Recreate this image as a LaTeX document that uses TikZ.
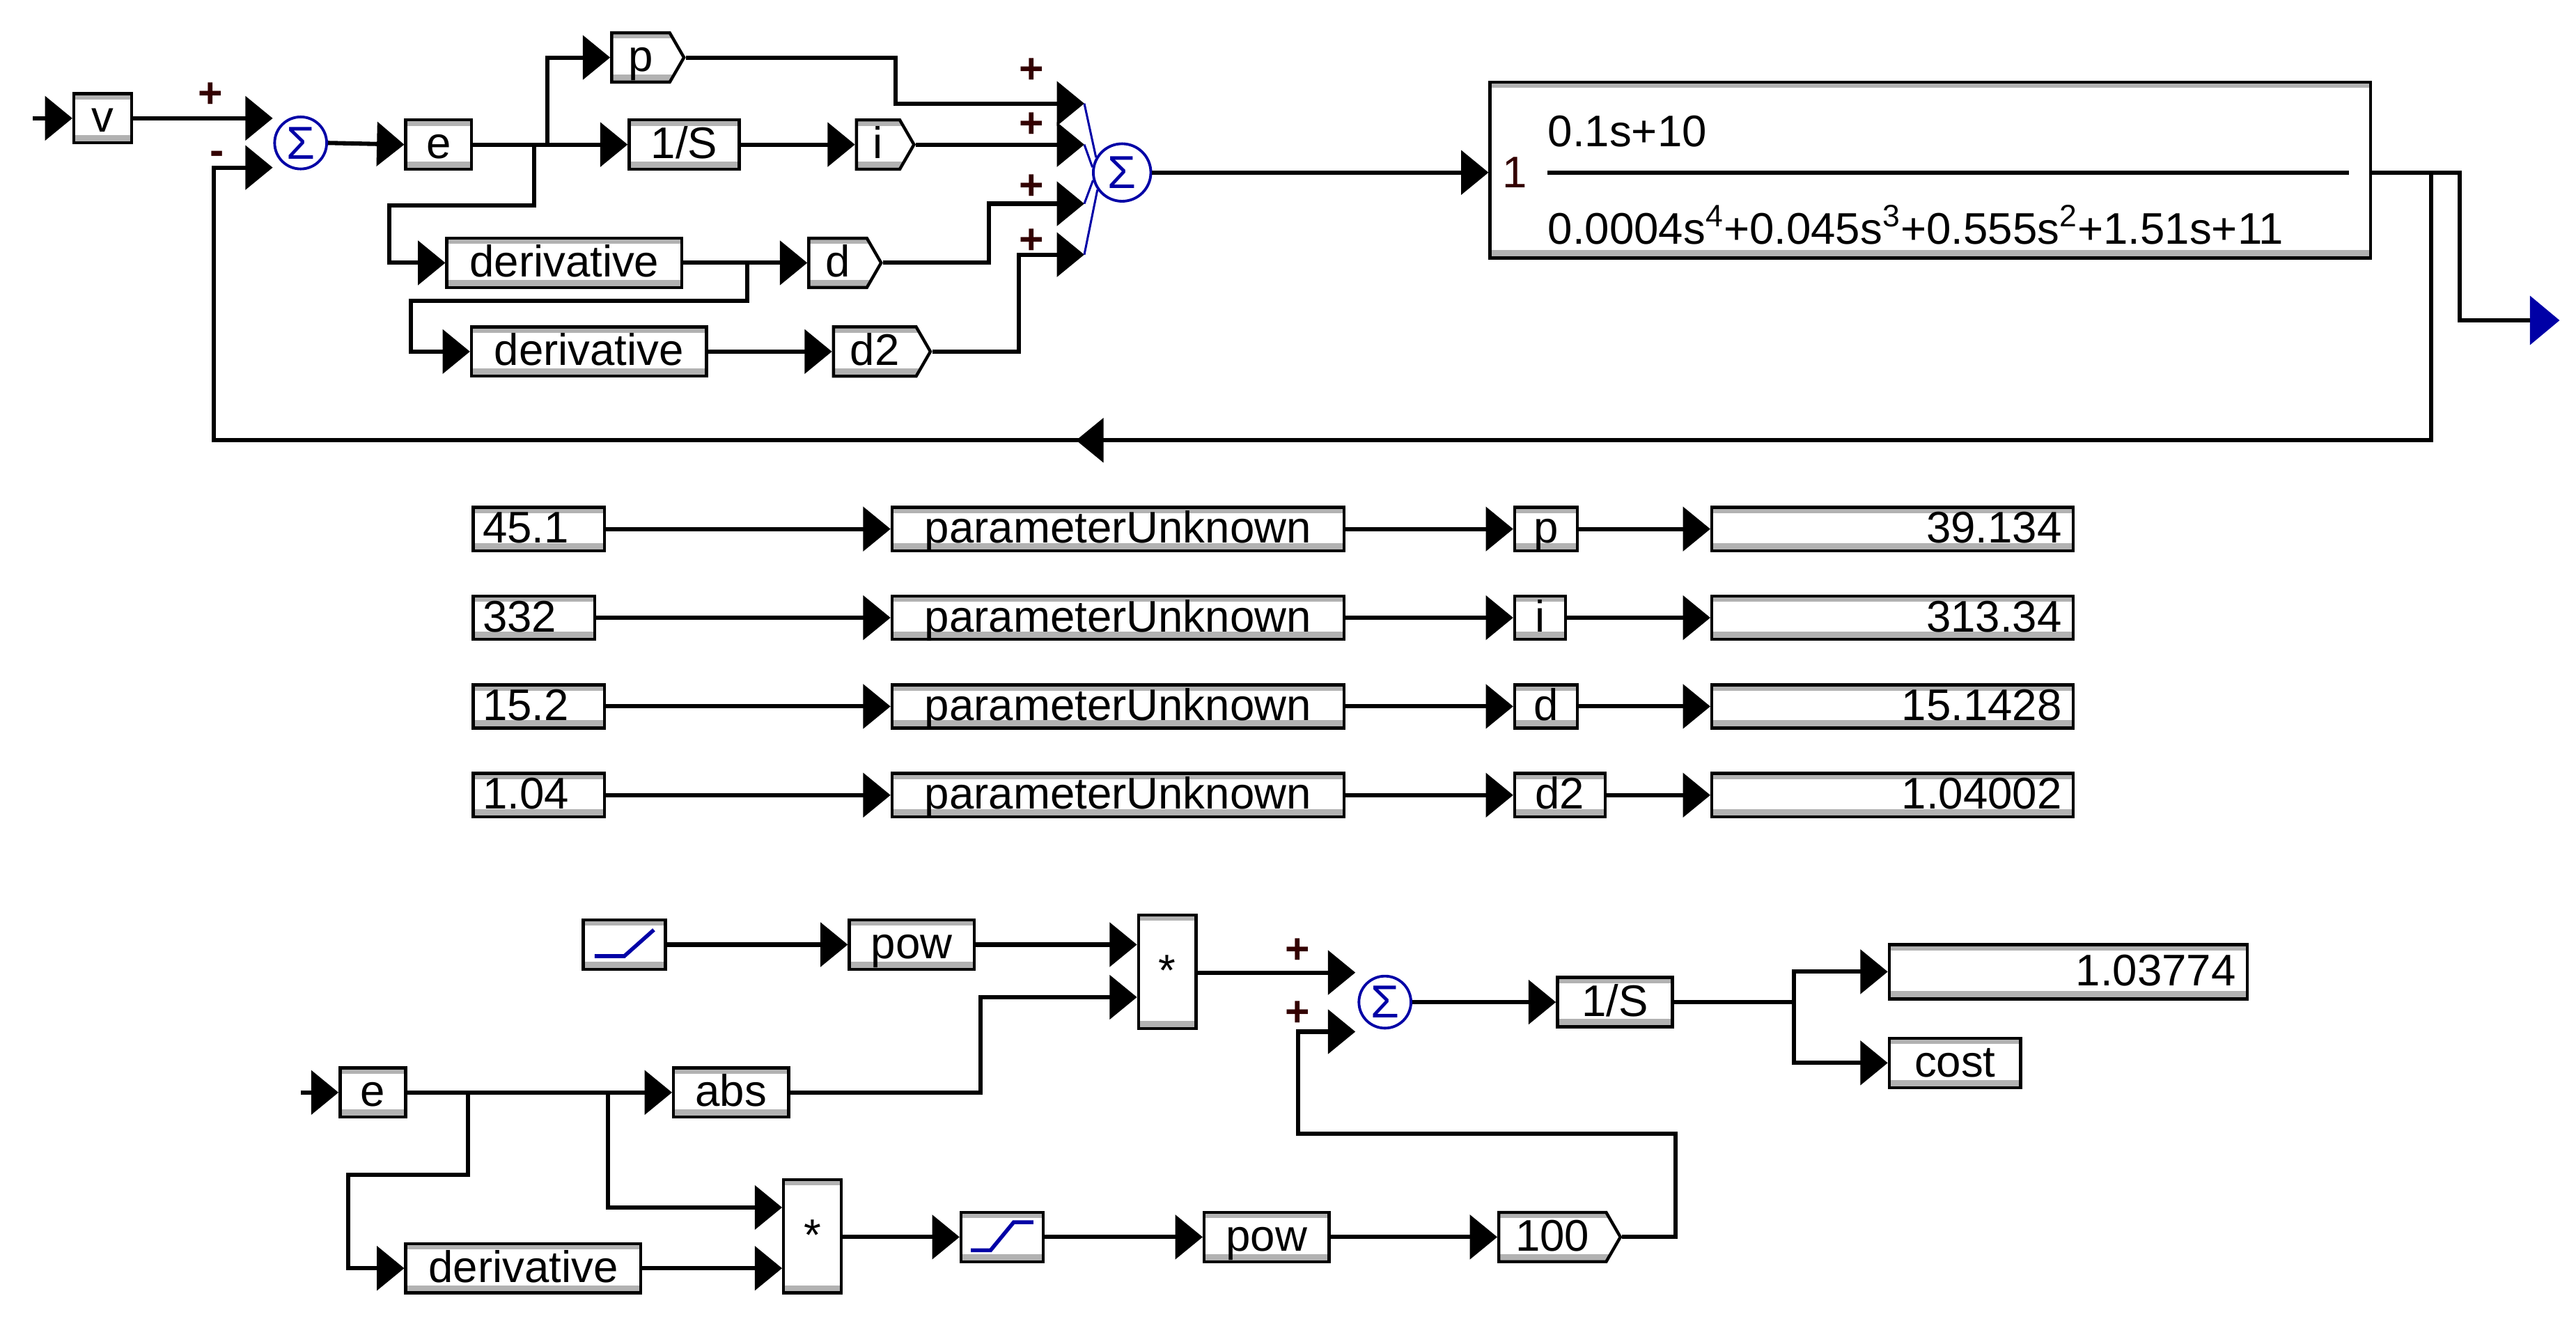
\documentclass[tikz,border=0pt]{standalone}
\usepackage{fontspec}
\setmainfont{Liberation Sans}
\usetikzlibrary{arrows.meta,shapes.symbols,calc}
\tikzset{
  lw/.style={line width=2.2pt},
  arr/.style={lw,-{Triangle[length=0.5cm,width=0.8cm]}},
  bar/.style={path picture={
     \fill[gray!60] (path picture bounding box.north west) rectangle ([yshift=-3pt]path picture bounding box.north east);
     \fill[gray!60] (path picture bounding box.south west) rectangle ([yshift=4pt]path picture bounding box.south east);}},
  box/.style={draw,line width=1.6pt,bar,inner sep=1.5pt,text height=17pt,text depth=2.5pt,font=\fontsize{23}{25}\selectfont},
  tag/.style={box,shape=signal,signal to=east,signal pointer angle=120},
  sum/.style={circle,draw=blue!65!black,line width=1.4pt,text=blue!65!black,minimum size=0.95cm,inner sep=0pt,font=\fontsize{24}{24}\selectfont},
  pm/.style={font=\fontsize{22}{22}\selectfont\bfseries,text=black!80!red},
}
\newcommand\blk[7][]{\node[box,#1,minimum width={(#5-#3)*0.03cm},minimum height={(#6-#4)*0.03cm}] (#2) at ({(#3+#5)/2},{(#4+#6)/2}) {#7};}
\newcommand\tg[7][]{\node[tag,#1,minimum width={(#5-#3)*0.03cm},minimum height={(#6-#4)*0.03cm}] (#2) at ({(#3+#5)/2},{(#4+#6)/2}) {#7};}
\begin{document}
\begin{tikzpicture}[x=0.03cm,y=-0.03cm]
\useasboundingbox (0,0) rectangle (1568,808);
% ---------------- top loop
\coordinate (vin) at (20,72);
\blk{v}{45}{57}{80}{87}{v}
\draw[arr] (vin) -- (v.west);
\node[sum] (s1) at (183,87) {Σ};
\coordinate (s1a) at (166,72);
\coordinate (s1b) at (166,102);
\node[pm] at (128,58) {+};
\node[pm] at (132,96) {-};
\draw[arr] (v.east) -- (s1a);
\blk{e}{247}{73}{287}{103}{e}
\draw[arr] (s1.east) -- (e.west);
\tg{p}{368}{20}{412}{50}{p}
\blk{int}{383}{73}{450}{103}{1/S}
\tg{i}{517}{73}{552}{103}{i}
\blk{der1}{272}{145}{415}{175}{derivative}
\tg{d}{488}{145}{532}{175}{d}
\blk{der2}{287}{199}{430}{229}{derivative}
\tg{d2}{503}{199}{562}{229}{d2}
\coordinate (j1) at (333,88);
\coordinate (j2) at (325,88);
\coordinate (j3) at (455,160);
\draw[lw] (e.east) -- (j1);
\draw[arr] (j1) |- (p.west);
\draw[arr] (j1) -- (int.west);
\draw[arr] (int.east) -- (i.west);
\draw[arr] (j2) -- (325,125) -- (237,125) |- (der1.west);
\draw[arr] (der1.east) -- (d.west);
\draw[arr] (j3) -- (455,183) -- (250,183) |- (der2.west);
\draw[arr] (der2.east) -- (d2.west);
% sum 2
\node[sum,minimum size=1.05cm] (s2) at (683,105) {Σ};
\coordinate (s2a) at (660,63);
\coordinate (s2b) at (660,88);
\coordinate (s2c) at (660,124);
\coordinate (s2d) at (660,155);
\draw[arr] (p.east) -- (545,35) |- (s2a);
\draw[arr] (i.east) -- (s2b);
\draw[arr] (d.east) -- (602,160) |- (s2c);
\draw[arr] (d2.east) -- (620,214) |- (s2d);
\foreach \c/\a in {s2a/150,s2b/170,s2c/195,s2d/215}
  \draw[blue!65!black,line width=1.1pt] (\c) -- (s2.\a);
\foreach \yy in {43,76,114,147} \node[pm] at (628,\yy) {+};
% transfer function
\blk{tf}{907}{50}{1443}{157}{}
\draw[arr] (s2.east) -- (tf.west |- s2.east);
\node[font=\fontsize{23}{25}\selectfont,text=black!80!red] (k) at (922,105) {1};
\node[anchor=west,font=\fontsize{23}{25}\selectfont,inner sep=0pt] (num) at (942,80) {0.1s+10};
\node[anchor=west,font=\fontsize{23}{25}\selectfont,inner sep=0pt] (den) at (942,137) {0.0004s\textsuperscript{4}+0.045s\textsuperscript{3}+0.555s\textsuperscript{2}+1.51s+11};
\draw[line width=2.2pt] (942,105) -- (1430,105);
% output and feedback
\coordinate (j4) at (1480,105);
\coordinate (out) at (1540,195);
\fill[blue!65!black] (1540,180) -- (1558,195) -- (1540,210) -- cycle;
\draw[lw] (tf.east |- j4) -- (1497,105) |- (out);
\draw[arr] (j4) -- (1480,268) -- (655,268);
\draw[arr] (660,268) -- (130,268) |- (s1b);
% ---------------- parameter table
\foreach \yy/\a/\aw/\t/\tw/\r/\n in {322/45.1/368/p/960/39.134/1, 376/332/362/i/953/313.34/2, 430/15.2/368/d/960/15.1428/3, 484/1.04/368/d2/977/1.04002/4}{
  \blk[text width={(\aw-288)*0.03cm-10pt},align=left]{a\n}{288}{\yy-15}{\aw}{\yy+15}{\a}
  \blk{pu\n}{543}{\yy-15}{818}{\yy+15}{parameterUnknown}
  \blk{t\n}{922}{\yy-15}{\tw}{\yy+15}{\t}
  \blk[text width={(1262-1042)*0.03cm-12pt},align=right]{r\n}{1042}{\yy-15}{1262}{\yy+15}{\r}
  \draw[arr] (a\n.east) -- (pu\n.west);
  \draw[arr] (pu\n.east) -- (t\n.west);
  \draw[arr] (t\n.east) -- (r\n.west);
}
% ---------------- cost computation
\blk{ramp}{355}{560}{405}{590}{}
\draw[blue!65!black,line width=2pt] (362,582) -- (380,582) -- (398,566);
\blk{pow1}{517}{560}{593}{590}{pow}
\blk{mul1}{693}{557}{728}{626}{*}
\draw[arr] (ramp.east) -- (pow1.west);
\draw[arr] (pow1.east) -- (mul1.west |- pow1.east);
\node[sum] (s3) at (843,610) {Σ};
\coordinate (s3a) at (825,592);
\coordinate (s3b) at (825,628);
\node[pm] at (790,579) {+};
\node[pm] at (790,617) {+};
\draw[arr] (mul1.east |- s3a) -- (s3a);
\blk{int2}{948}{595}{1018}{625}{1/S}
\draw[arr] (s3.east) -- (int2.west);
\blk[text width={(1368-1150)*0.03cm-12pt},align=right]{res}{1150}{575}{1368}{608}{1.03774}
\blk{cost}{1150}{632}{1230}{662}{cost}
\coordinate (j5) at (1092,610);
\draw[lw] (int2.east) -- (j5);
\draw[arr] (j5) |- (res.west);
\draw[arr] (j5) |- (cost.west);
\coordinate (ein) at (183,665);
\blk{e2}{207}{650}{247}{680}{e}
\draw[arr] (ein) -- (e2.west);
\blk{abs}{410}{650}{480}{680}{abs}
\draw[arr] (e2.east) -- (abs.west);
\draw[arr] (abs.east) -- (597,665) |- (mul1.west |- 0,607);
\blk{der3}{247}{757}{390}{787}{derivative}
\blk{mul2}{477}{718}{512}{787}{*}
\coordinate (j6) at (285,665);
\coordinate (j7) at (370,665);
\draw[arr] (j6) -- (285,715) -- (212,715) |- (der3.west);
\draw[arr] (j7) |- (mul2.west |- 0,735);
\draw[arr] (der3.east) -- (mul2.west |- der3.east);
\blk{sat}{585}{738}{635}{768}{}
\draw[blue!65!black,line width=2pt] (591,761) -- (603,761) -- (617,744) -- (629,744);
\draw[arr] (mul2.east |- sat.west) -- (sat.west);
\blk{pow2}{733}{738}{809}{768}{pow}
\draw[arr] (sat.east) -- (pow2.west);
\tg{hund}{908}{738}{982}{768}{100}
\draw[arr] (pow2.east) -- (hund.west);
\draw[arr] (hund.east) -- (1020,753) -- (1020,690) -- (790,690) |- (s3b);
\end{tikzpicture}
\end{document}
